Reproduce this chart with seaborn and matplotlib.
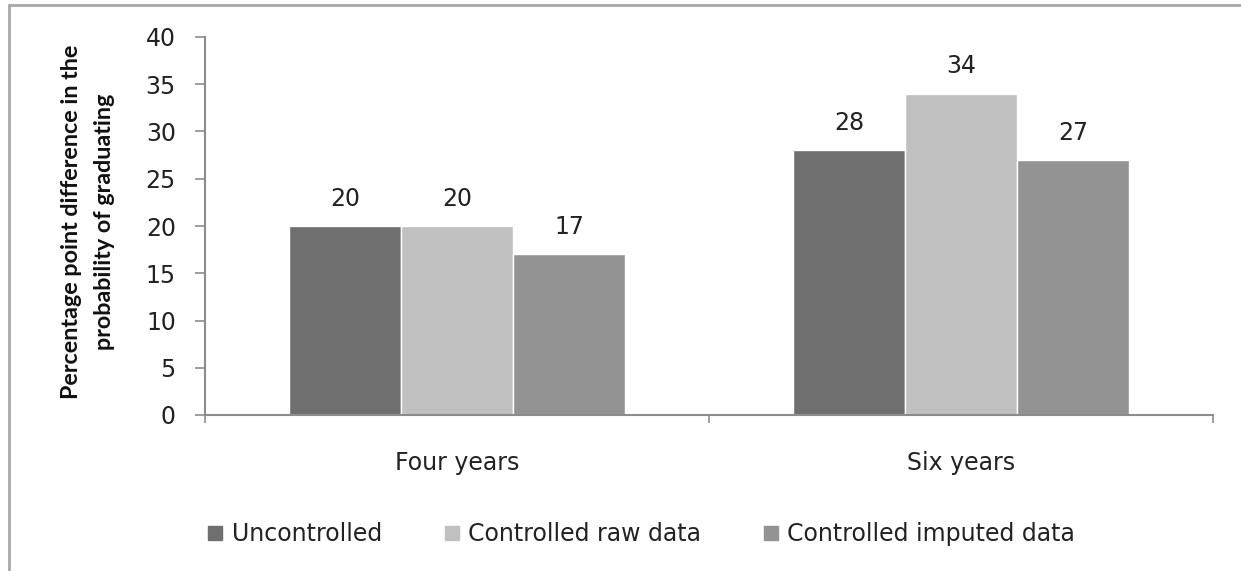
import pandas as pd
import matplotlib.pyplot as plt
import seaborn as sns
from matplotlib.lines import Line2D

# Data
periods = ['Four years', 'Six years']
series = ['Uncontrolled', 'Controlled raw data', 'Controlled imputed data']
uncontrolled = [20, 28]
controlled_raw = [20, 34]
controlled_imputed = [17, 27]
colors = ['#6f6f6f', '#c0c0c0', '#939393']

df = pd.DataFrame({
    'period': periods * 3,
    'series': [s for s in series for _ in periods],
    'value': uncontrolled + controlled_raw + controlled_imputed,
})

sns.set_style('white')
plt.rcParams['font.family'] = ['DejaVu Sans']

fig = plt.figure(figsize=(12.41, 5.71), dpi=100)
ax = fig.add_axes([205 / 1241, 1 - 415 / 571, 1008 / 1241, (415 - 37) / 571])

sns.barplot(data=df, x='period', y='value', hue='series', palette=colors,
            width=2 / 3, gap=0, saturation=1, legend=False, ax=ax)

for cont in ax.containers:
    ax.bar_label(cont, fmt='%d', padding=11, fontsize=17, color='#222222')

ax.set_xlim(-0.5, 1.5)
ax.set_ylim(0, 40)
ax.set_yticks(range(0, 41, 5))
ax.set_xlabel('')
ax.set_ylabel('Percentage point difference in the\nprobability of graduating',
              fontsize=16.8, color='#111111', fontweight='bold',
              family=['Lato', 'DejaVu Sans'],
              linespacing=1.75, va='center')
ax.yaxis.set_label_coords((88 - 205) / 1008, 0.51)

for side in ['top', 'right']:
    ax.spines[side].set_visible(False)
for side in ['left', 'bottom']:
    ax.spines[side].set_color('#8c8c8c')
    ax.spines[side].set_linewidth(1.5)

ax.tick_params(axis='y', left=True, length=7, width=1.2, color='#8c8c8c',
               labelsize=17, labelcolor='#222222', pad=14)
ax.tick_params(axis='x', which='major', length=0, labelsize=17,
               labelcolor='#222222', pad=26)
ax.set_xticks([-0.5, 0.5, 1.5], minor=True)
ax.tick_params(axis='x', which='minor', bottom=True, length=6, width=1.2,
               color='#8c8c8c')

handles = [Line2D([], [], marker='s', linestyle='', markersize=10,
                  markerfacecolor=c, markeredgecolor=c) for c in colors]
fig.legend(handles, series, loc='center', bbox_to_anchor=(641 / 1241, 1 - 534 / 571),
           ncol=3, frameon=False, fontsize=17, handlelength=0.7,
           handletextpad=0.35, columnspacing=2.6, labelcolor='#222222')

# outer chart frame (cut off at right and bottom like the source image)
fig.add_artist(Line2D([9 / 1241, 9 / 1241], [0, 1 - 5 / 571], color='#a8a8a8', lw=2))
fig.add_artist(Line2D([9 / 1241, 1], [1 - 5 / 571, 1 - 5 / 571], color='#a8a8a8', lw=2))

fig.savefig('out.png', dpi=100)
